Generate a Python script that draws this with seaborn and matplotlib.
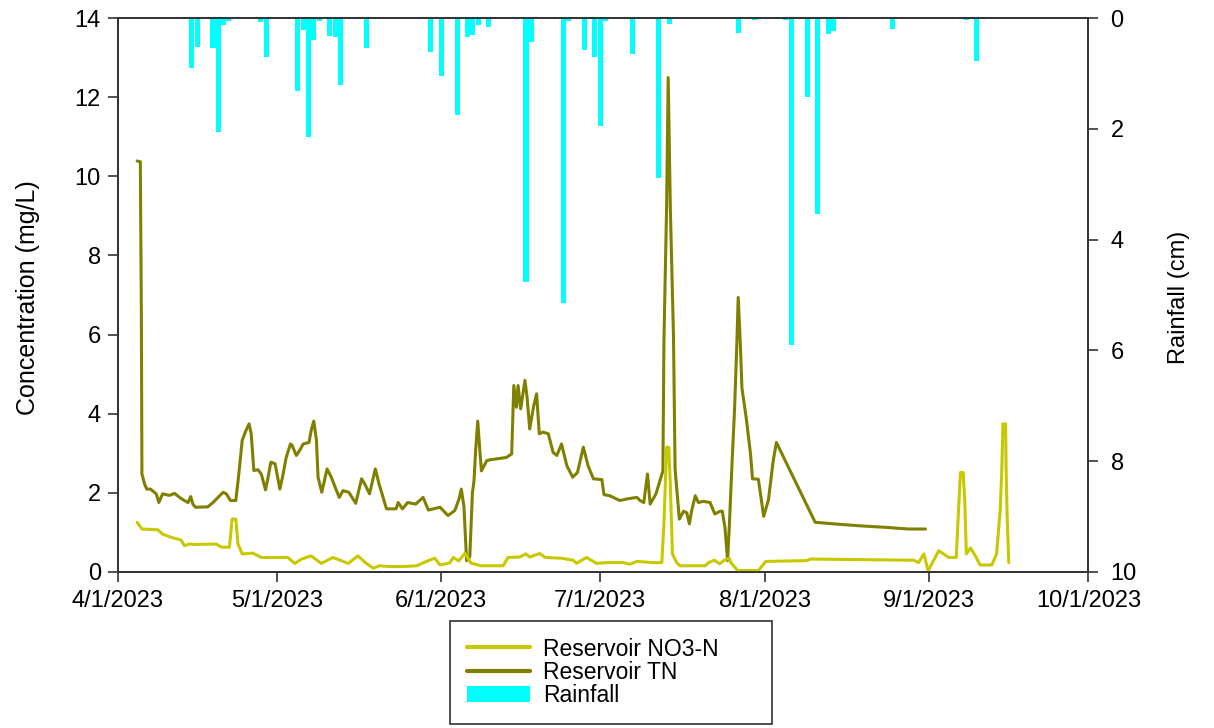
import matplotlib
matplotlib.use("Agg")
import matplotlib.pyplot as plt
import matplotlib.dates as mdates
from matplotlib.ticker import FuncFormatter, MultipleLocator
from matplotlib.patches import Patch
from matplotlib.lines import Line2D
import numpy as np
import pandas as pd
import seaborn as sns

# Day offsets are counted from 1 April 2023
START = "2023-04-01"
END = "2023-10-01"

tn_day = [3.7, 4.3, 4.5, 4.6, 5.1, 5.5, 6.2, 7.3, 7.8, 8.5, 9.8, 10.75, 11.7, 12.6,
          13.3, 13.8, 14.2, 14.7, 17.0, 18.0, 19.9, 20.5, 21.3, 22.3, 22.9, 23.5,
          24.2, 24.8, 25.2, 25.7, 26.5, 27.1, 27.9, 28.4, 28.9, 29.7, 30.6, 31.1,
          31.8, 32.6, 32.9, 33.7, 34.3, 35.0, 36.1, 36.5, 37.0, 37.5, 37.8, 38.5,
          39.5, 40.3, 40.9, 41.8, 42.5, 43.6, 44.9, 46.0, 46.6, 47.5, 48.6, 49.3,
          50.7, 52.5, 52.9, 53.7, 54.7, 56.2, 57.6, 58.6, 60.8, 62.3, 63.6, 64.4,
          64.8, 65.3, 65.8, 66.4, 66.9, 67.2, 67.5, 67.9, 68.3, 68.6, 69.6, 70.2,
          73.3, 74.3, 74.7, 75.2, 75.5, 76.0, 76.8, 77.2, 77.7, 78.4, 79.0, 79.5,
          80.2, 81.2, 82.1, 82.8, 83.7, 84.7, 85.8, 86.7, 87.8, 88.7, 89.7, 91.3,
          91.7, 92.8, 94.7, 96.0, 97.9, 98.5, 99.2, 99.9, 100.4, 101.5, 102.8,
          103.0, 103.5, 103.8, 104.2, 104.8, 105.1, 105.5, 105.9, 106.7, 107.3,
          107.8, 108.2, 108.9, 109.5, 110.4, 111.7, 112.6, 113.6, 114.0, 114.5,
          115.0, 115.3, 115.8, 116.3, 116.7, 117.0, 117.4, 117.7, 118.5, 119.3,
          119.7, 120.8, 121.8, 122.7, 123.6, 124.2, 131.5, 135.0, 140.0, 145.0,
          149.1, 152.3]
tn_mgl = [10.39, 10.37, 6.40, 2.47, 2.22, 2.09, 2.09, 1.97, 1.75, 1.97, 1.93, 1.98,
          1.88, 1.80, 1.75, 1.90, 1.71, 1.63, 1.64, 1.75, 2.01, 1.97, 1.80, 1.80,
          2.51, 3.32, 3.57, 3.74, 3.49, 2.56, 2.58, 2.47, 2.07, 2.40, 2.77, 2.73,
          2.09, 2.39, 2.89, 3.23, 3.20, 2.94, 3.06, 3.23, 3.27, 3.57, 3.81, 3.32,
          2.39, 2.01, 2.60, 2.39, 2.18, 1.88, 2.05, 2.01, 1.73, 2.35, 2.22, 1.97,
          2.60, 2.22, 1.59, 1.59, 1.75, 1.59, 1.75, 1.71, 1.88, 1.56, 1.63, 1.42,
          1.55, 1.85, 2.09, 1.65, 0.28, 0.38, 2.00, 2.30, 3.06, 3.81, 3.06, 2.55,
          2.81, 2.83, 2.89, 2.98, 4.71, 4.16, 4.71, 4.12, 4.84, 4.41, 3.61, 4.16,
          4.50, 3.49, 3.53, 3.49, 3.02, 2.94, 3.23, 2.68, 2.39, 2.51, 3.15, 2.68,
          2.35, 2.33, 1.95, 1.92, 1.80, 1.84, 1.88, 1.80, 1.75, 2.47, 1.71, 1.97,
          2.55, 5.85, 9.22, 12.50, 9.22, 5.95, 2.60, 1.95, 1.33, 1.53, 1.49, 1.21,
          1.53, 1.92, 1.75, 1.78, 1.75, 1.46, 1.53, 1.53, 1.12, 0.28, 1.08, 2.64,
          4.08, 5.60, 6.94, 5.76, 4.65, 3.90, 3.00, 2.35, 2.34, 1.40, 1.82, 2.81,
          3.27, 1.25, 1.21, 1.16, 1.12, 1.08, 1.08]

no3_day = [3.7, 4.6, 7.6, 8.5, 10.1, 12.0, 12.6, 13.6, 14.8, 18.6, 19.6, 21.1, 21.6,
           22.3, 22.7, 23.5, 25.5, 27.1, 28.4, 32.1, 33.4, 34.7, 36.5, 38.4, 40.6,
           43.5, 45.3, 46.9, 48.2, 49.4, 51.3, 53.8, 56.4, 58.2, 59.8, 60.8, 62.6,
           63.3, 64.3, 65.5, 66.6, 68.5, 72.7, 73.6, 75.8, 77.0, 77.7, 79.6, 80.6,
           83.7, 85.9, 86.5, 88.4, 90.3, 92.2, 95.3, 96.6, 97.9, 101.0, 102.6,
           103.0, 103.5, 103.9, 104.2, 104.6, 105.4, 106.0, 110.8, 111.4, 112.5,
           113.5, 114.5, 115.3, 115.6, 116.9, 120.8, 122.2, 129.9, 130.6, 150.1,
           151.0, 152.0, 152.8, 153.8, 154.8, 156.7, 158.1, 158.6, 158.9, 159.4,
           159.7, 160.0, 160.8, 161.7, 162.6, 164.8, 165.7, 166.4, 166.7, 166.9,
           167.4, 167.5, 167.7, 168.0]
no3_mgl = [1.25, 1.08, 1.06, 0.95, 0.87, 0.80, 0.66, 0.70, 0.69, 0.70, 0.62, 0.62,
           1.33, 1.33, 0.70, 0.45, 0.47, 0.36, 0.36, 0.36, 0.21, 0.32, 0.40, 0.21,
           0.36, 0.21, 0.40, 0.21, 0.09, 0.15, 0.13, 0.13, 0.15, 0.26, 0.34, 0.17,
           0.22, 0.36, 0.27, 0.47, 0.22, 0.15, 0.15, 0.36, 0.37, 0.45, 0.37, 0.46,
           0.36, 0.34, 0.29, 0.21, 0.36, 0.21, 0.23, 0.23, 0.19, 0.26, 0.23, 0.23,
           1.21, 3.15, 3.15, 2.22, 0.45, 0.23, 0.15, 0.15, 0.23, 0.29, 0.20, 0.30,
           0.34, 0.23, 0.03, 0.03, 0.26, 0.28, 0.32, 0.29, 0.23, 0.45, 0.02, 0.28,
           0.53, 0.36, 0.36, 1.75, 2.51, 2.51, 1.80, 0.45, 0.60, 0.40, 0.17, 0.17,
           0.45, 1.59, 2.64, 3.74, 3.74, 2.56, 1.37, 0.23]

rain_day = [14, 15, 18, 19, 20, 21, 27, 28, 34, 35, 36, 37, 38, 40, 41, 42, 47, 59,
            61, 64, 66, 67, 68, 70, 77, 78, 84, 85, 88, 90, 91, 92, 97, 102, 104,
            117, 120, 126, 127, 130, 132, 134, 135, 146, 160, 162]
rain_cm = [0.90, 0.52, 0.54, 2.06, 0.13, 0.05, 0.07, 0.70, 1.31, 0.22, 2.15, 0.40,
           0.05, 0.32, 0.34, 1.21, 0.53, 0.61, 1.05, 1.75, 0.34, 0.31, 0.13, 0.16,
           4.76, 0.43, 5.15, 0.05, 0.58, 0.70, 1.94, 0.05, 0.64, 2.89, 0.11, 0.27,
           0.03, 0.03, 5.91, 1.42, 3.53, 0.29, 0.23, 0.20, 0.03, 0.78]

series_labels = ["Reservoir NO3-N", "Reservoir TN", "Rainfall"]
series_colors = {"Reservoir NO3-N": "#C8C800", "Reservoir TN": "#808000",
                 "Rainfall": "#00FFFF"}


def to_dates(days):
    return pd.Timestamp(START) + pd.to_timedelta(np.asarray(days, dtype=float), unit="D")


tn = pd.DataFrame({"date": to_dates(tn_day), "conc": tn_mgl})
no3 = pd.DataFrame({"date": to_dates(no3_day), "conc": no3_mgl})
rain = pd.DataFrame({"date": to_dates(rain_day), "cm": rain_cm})

sns.set_theme(style="ticks")
plt.rcParams["font.family"] = ["Liberation Sans", "DejaVu Sans"]
plt.rcParams["text.color"] = "black"
plt.rcParams["axes.edgecolor"] = "#333333"
plt.rcParams["axes.linewidth"] = 1.3

fig = plt.figure(figsize=(12.14, 7.28), dpi=100)
ax = fig.add_axes([0.0968, 0.2147, 0.7997, 0.7602])
ax2 = ax.twinx()

# Rainfall hangs from the top on an inverted secondary axis
ax2.bar(rain["date"].dt.to_pydatetime(), rain["cm"], width=0.95,
        color=series_colors["Rainfall"], linewidth=0, align="center")
ax2.set_ylim(10, 0)
ax2.yaxis.set_major_locator(MultipleLocator(2))

sns.lineplot(data=tn, x="date", y="conc", ax=ax, color=series_colors["Reservoir TN"],
             linewidth=2.2, estimator=None, sort=False)
sns.lineplot(data=no3, x="date", y="conc", ax=ax, color=series_colors["Reservoir NO3-N"],
             linewidth=2.2, estimator=None, sort=False)

# Concentration lines sit above the rainfall bars
ax.set_zorder(ax2.get_zorder() + 1)
ax.patch.set_visible(False)

ax.set_xlim(pd.Timestamp(START), pd.Timestamp(END))
ax.set_ylim(0, 14)
ax.yaxis.set_major_locator(MultipleLocator(2))
ax.xaxis.set_major_locator(mdates.MonthLocator())


def fmt_date(v, pos):
    d = mdates.num2date(v)
    return f"{d.month}/{d.day}/{d.year}"


ax.xaxis.set_major_formatter(FuncFormatter(fmt_date))

ax.tick_params(axis="both", direction="out", length=7, width=1.2, labelsize=17,
               color="#333333", labelcolor="black")
ax.tick_params(axis="y", pad=5, right=False)
ax.tick_params(axis="x", pad=6, top=False)
ax2.tick_params(axis="y", direction="out", length=7, width=1.2, labelsize=17,
                pad=9, color="#333333", labelcolor="black")

for a in (ax, ax2):
    for s in a.spines.values():
        s.set_visible(True)
        s.set_color("#333333")
        s.set_linewidth(1.3)

ax.set_xlabel("")
ax.set_ylabel("Concentration (mg/L)", fontsize=18, color="black")
ax.yaxis.set_label_coords(-0.08, 0.495)
ax2.set_ylabel("Rainfall (cm)", fontsize=17, color="black")
ax2.yaxis.set_label_coords(1.082, 0.495)

handles = [
    Line2D([], [], color=series_colors["Reservoir NO3-N"], linewidth=3),
    Line2D([], [], color=series_colors["Reservoir TN"], linewidth=3),
    Patch(facecolor=series_colors["Rainfall"], edgecolor="none"),
]
W, H = 1214.0, 728.0
leg = fig.legend(handles, series_labels, loc="upper left",
                 bbox_to_anchor=(450 / W, 1 - 727 / H, 322 / W, 106 / H),
                 mode="expand", borderaxespad=0, fontsize=16.5, frameon=True,
                 fancybox=False, shadow=False, framealpha=1, handlelength=2.75,
                 handletextpad=0.6, labelspacing=0.02, borderpad=0.72)
leg.get_frame().set_edgecolor("#404040")
leg.get_frame().set_linewidth(1.3)
for t in leg.get_texts():
    t.set_color("black")

fig.savefig("out.png", dpi=100)
